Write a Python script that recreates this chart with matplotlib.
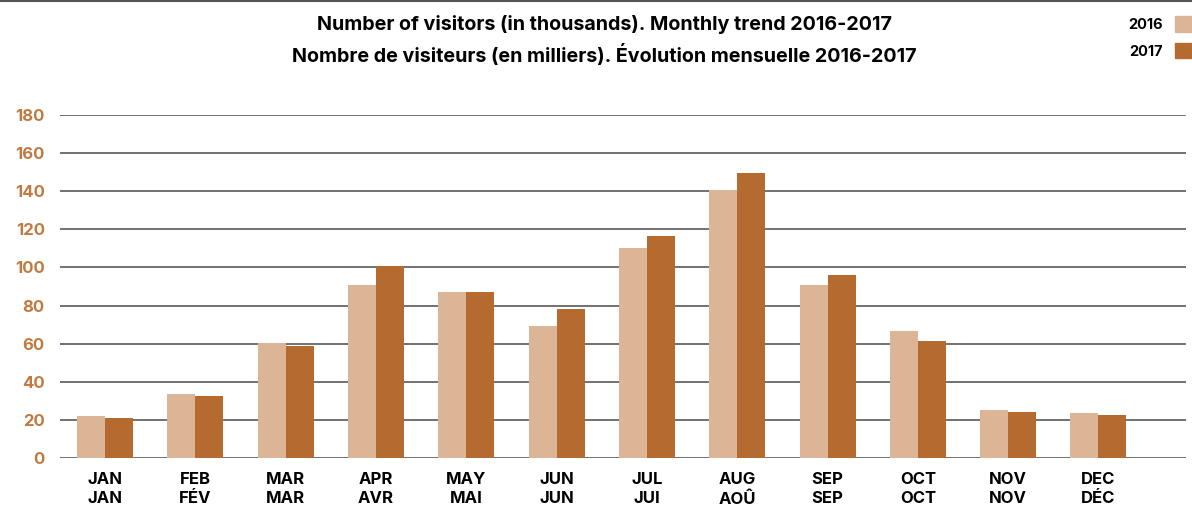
import matplotlib
matplotlib.use("Agg")
import matplotlib.pyplot as plt
import numpy as np

months_en = ["JAN", "FEB", "MAR", "APR", "MAY", "JUN", "JUL", "AUG", "SEP", "OCT", "NOV", "DEC"]
months_fr = ["JAN", "FÉV", "MAR", "AVR", "MAI", "JUN", "JUI", "AOÛ", "SEP", "OCT", "NOV", "DÉC"]
visitors_2016 = [22, 33.5, 60.5, 91, 87, 69.5, 110, 140.5, 91, 66.5, 25, 23.5]
visitors_2017 = [21, 32.5, 59, 101, 87, 78, 116.5, 149.5, 96, 61.5, 24, 22.5]
yticks = [0, 20, 40, 60, 80, 100, 120, 140, 160, 180]

c2016 = "#dcb597"
c2017 = "#b56b30"
tick_col = "#c07a40"

plt.rcParams["font.family"] = ["Inter", "DejaVu Sans"]

fig = plt.figure(figsize=(11.92, 5.07), dpi=100)
ax = fig.add_axes([60 / 1192, 1 - 458 / 507, (1186 - 60) / 1192, (458 - 115) / 507])

x = np.arange(len(months_en))
w = 0.31
ax.bar(x - w / 2, visitors_2016, w, color=c2016, zorder=3)
ax.bar(x + w / 2, visitors_2017, w, color=c2017, zorder=3)

ax.set_xlim(-0.5, 11.97)
ax.set_ylim(0, 180)
ax.set_yticks(yticks)
ax.set_yticklabels([str(v) for v in yticks], color=tick_col, fontsize=12, fontweight="bold")
ax.set_xticks(x)
ax.set_xticklabels([f"{e}\n{f}" for e, f in zip(months_en, months_fr)],
                   fontsize=12, fontweight="bold", linespacing=1.35)
ax.tick_params(axis="both", length=0)
ax.tick_params(axis="y", pad=11)
ax.tick_params(axis="x", pad=10)
for sp in ax.spines.values():
    sp.set_visible(False)
ax.grid(axis="y", color="#4a4a4a", linewidth=1.1, zorder=0)
ax.set_axisbelow(True)

fig.text(0.507, 1 - 24 / 507, "Number of visitors (in thousands). Monthly trend 2016-2017",
         ha="center", va="center", fontsize=14.2, fontweight="bold")
fig.text(0.507, 1 - 55 / 507, "Nombre de visiteurs (en milliers). Évolution mensuelle 2016-2017",
         ha="center", va="center", fontsize=14.2, fontweight="bold")

# legend
fig.text(1163 / 1192, 1 - 25 / 507, "2016", ha="right", va="center", fontsize=10.5, fontweight="bold")
fig.text(1163 / 1192, 1 - 52 / 507, "2017", ha="right", va="center", fontsize=10.5, fontweight="bold")
fig.patches.append(plt.Rectangle((1175 / 1192, 1 - 32 / 507), 17 / 1192, 16 / 507,
                                 transform=fig.transFigure, color=c2016))
fig.patches.append(plt.Rectangle((1175 / 1192, 1 - 58 / 507), 17 / 1192, 15 / 507,
                                 transform=fig.transFigure, color=c2017))
fig.lines.append(plt.Line2D([0, 1], [0.998, 0.998], transform=fig.transFigure, color="#555555", linewidth=1.5))

fig.savefig("out.png", dpi=100)
